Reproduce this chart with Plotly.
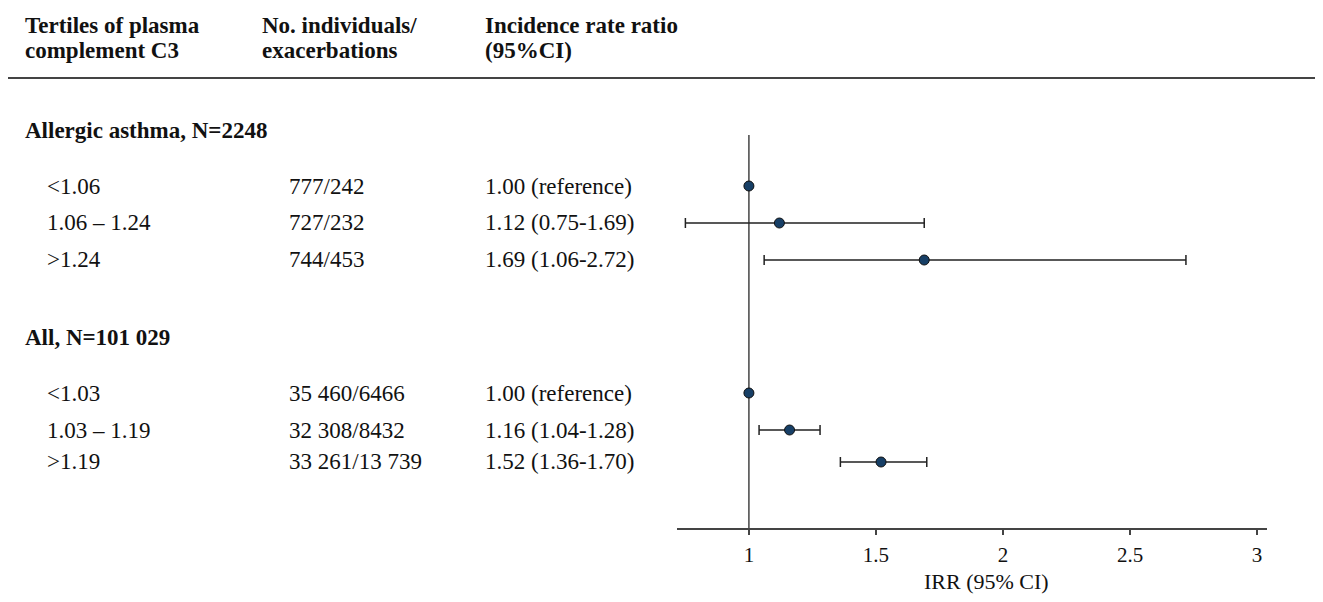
import plotly.graph_objects as go

# ---------------- data ----------------
group_titles = ["Allergic asthma, N=2248", "All, N=101 029"]

tertiles_allergic = ["<1.06", "1.06 – 1.24", ">1.24"]
counts_allergic = ["777/242", "727/232", "744/453"]
irr_allergic = [1.00, 1.12, 1.69]
lo_allergic = [1.00, 0.75, 1.06]
hi_allergic = [1.00, 1.69, 2.72]

tertiles_all = ["<1.03", "1.03 – 1.19", ">1.19"]
counts_all = ["35 460/6466", "32 308/8432", "33 261/13 739"]
irr_all = [1.00, 1.16, 1.52]
lo_all = [1.00, 1.04, 1.36]
hi_all = [1.00, 1.28, 1.70]

header_col1 = ["Tertiles of plasma", "complement C3"]
header_col2 = ["No. individuals/", "exacerbations"]
header_col3 = ["Incidence rate ratio", "(95%CI)"]

x_ticks = [1, 1.5, 2, 2.5, 3]
x_title = "IRR (95% CI)"

# ---------------- layout (page pixel positions) ----------------
W, H = 1323, 602
OFF = 8  # default page body margin
FONT = "Liberation Serif, Times New Roman, serif"
TXT = "#111111"
LINE = "#444444"
FS = 23

heading_row_px = [130, 338]
data_row_px = [[186, 223, 260], [393, 430, 462]]
plot_top_px, plot_bot_px = 135, 528
axis_left_px, axis_right_px = 677, 1267


def px(x):
    return (x - OFF) / W


def py(y):
    return (H - (y - OFF)) / H


groups = [
    (tertiles_allergic, counts_allergic, irr_allergic, lo_allergic, hi_allergic),
    (tertiles_all, counts_all, irr_all, lo_all, hi_all),
]

ys, xs, plus, minus = [], [], [], []
annotations = []

for gi, (terts, counts, irr, lo, hi) in enumerate(groups):
    annotations.append(dict(x=px(23), y=py(heading_row_px[gi]), xref="paper", yref="paper",
                            xanchor="left", yanchor="middle", showarrow=False,
                            text="<b>%s</b>" % group_titles[gi],
                            font=dict(family=FONT, size=FS, color=TXT)))
    for k in range(len(terts)):
        yy = data_row_px[gi][k]
        ys.append(yy)
        xs.append(irr[k])
        plus.append(hi[k] - irr[k])
        minus.append(irr[k] - lo[k])
        if k == 0:
            lab = "%.2f (reference)" % irr[k]
        else:
            lab = "%.2f (%.2f-%.2f)" % (irr[k], lo[k], hi[k])
        for xpos, t in [(45, terts[k]), (287, counts[k]), (483, lab)]:
            annotations.append(dict(x=px(xpos), y=py(yy), xref="paper", yref="paper",
                                    xanchor="left", yanchor="middle", showarrow=False,
                                    text=t, font=dict(family=FONT, size=FS, color=TXT)))

# column headers
for xpos, lines in [(23, header_col1), (260, header_col2), (483, header_col3)]:
    for li, t in enumerate(lines):
        annotations.append(dict(x=px(xpos), y=py(26 + 24 * li), xref="paper", yref="paper",
                                xanchor="left", yanchor="middle", showarrow=False,
                                text="<b>%s</b>" % t,
                                font=dict(family=FONT, size=FS, color=TXT)))

# axis title
annotations.append(dict(x=px(986), y=py(581), xref="paper", yref="paper",
                        xanchor="center", yanchor="middle", showarrow=False,
                        text=x_title, font=dict(family=FONT, size=22, color=TXT)))

fig = go.Figure()
fig.add_trace(go.Scatter(
    x=xs, y=ys, mode="markers",
    marker=dict(size=10, color="#173f66", line=dict(color="#111111", width=1)),
    error_x=dict(type="data", symmetric=False, array=plus, arrayminus=minus,
                 color="#222222", thickness=1.5, width=5),
    showlegend=False, hoverinfo="x",
))

fig.add_shape(type="line", xref="x", yref="y", x0=1, x1=1, y0=plot_top_px, y1=plot_bot_px,
              line=dict(color=LINE, width=1.5), layer="below")
fig.add_shape(type="line", xref="paper", yref="paper", x0=0, x1=1.02, y0=py(78), y1=py(78),
              line=dict(color=LINE, width=2))

fig.update_layout(
    width=W, height=H,
    margin=dict(l=0, r=0, t=0, b=0),
    paper_bgcolor="white", plot_bgcolor="white",
    annotations=annotations,
    xaxis=dict(domain=[px(axis_left_px), px(axis_right_px)], range=[0.717, 3.039],
               tickvals=x_ticks, ticktext=[("%g" % v) for v in x_ticks],
               showgrid=False, zeroline=False, showline=True, linecolor=LINE, linewidth=1.5,
               ticks="outside", ticklen=5, tickwidth=1.5, tickcolor=LINE,
               tickfont=dict(family=FONT, size=21, color=TXT), ticklabelstandoff=2,
               automargin=False, fixedrange=True),
    yaxis=dict(domain=[py(plot_bot_px), py(plot_top_px)], range=[plot_bot_px, plot_top_px],
               showgrid=False, zeroline=False, showline=False, showticklabels=False,
               ticks="", automargin=False, fixedrange=True),
)

fig.write_html("out.html")
